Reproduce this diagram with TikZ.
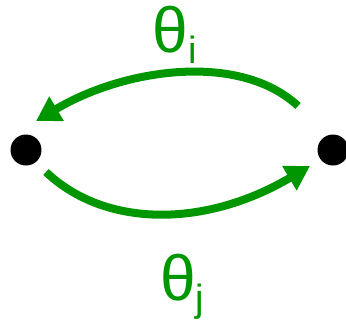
\documentclass[tikz,border=0pt]{standalone}
\usepackage{fontspec}
\setmainfont{Liberation Sans}
\usetikzlibrary{arrows.meta}
\definecolor{arrgreen}{RGB}{0,150,0}
\tikzset{
  dotnode/.style={circle,fill=black,inner sep=0pt,minimum size=31bp},
  greenarrow/.style={draw=arrgreen,line width=8bp,-{Triangle[length=24bp,width=27bp]}},
  lbl/.style={text=arrgreen,inner sep=0pt,font=\fontsize{64bp}{70bp}\selectfont}
}
\newcommand{\subsc}[1]{{\fontsize{38bp}{40bp}\selectfont #1}}
\begin{document}
\begin{tikzpicture}[x=1bp,y=-1bp]
\useasboundingbox (0,0) rectangle (346,324);
\node[dotnode] (L) at (26,150) {};
\node[dotnode] (R) at (333,150) {};
\coordinate (tstart) at (298,106);
\coordinate (tend) at (36,121);
\coordinate (bstart) at (46,172);
\coordinate (bend) at (310,166);
\draw[greenarrow] (tstart) .. controls (240,52) and (125,68) .. (tend);
\draw[greenarrow] (bstart) .. controls (105,228) and (205,228) .. (bend);
\node[lbl,anchor=base west] (ti) at (152,52) {θ\hspace{1bp}\raisebox{-11bp}{\subsc{i}}};
\node[lbl,anchor=base west] (tj) at (160,300) {θ\raisebox{-11bp}{\subsc{j}}};
\end{tikzpicture}
\end{document}
